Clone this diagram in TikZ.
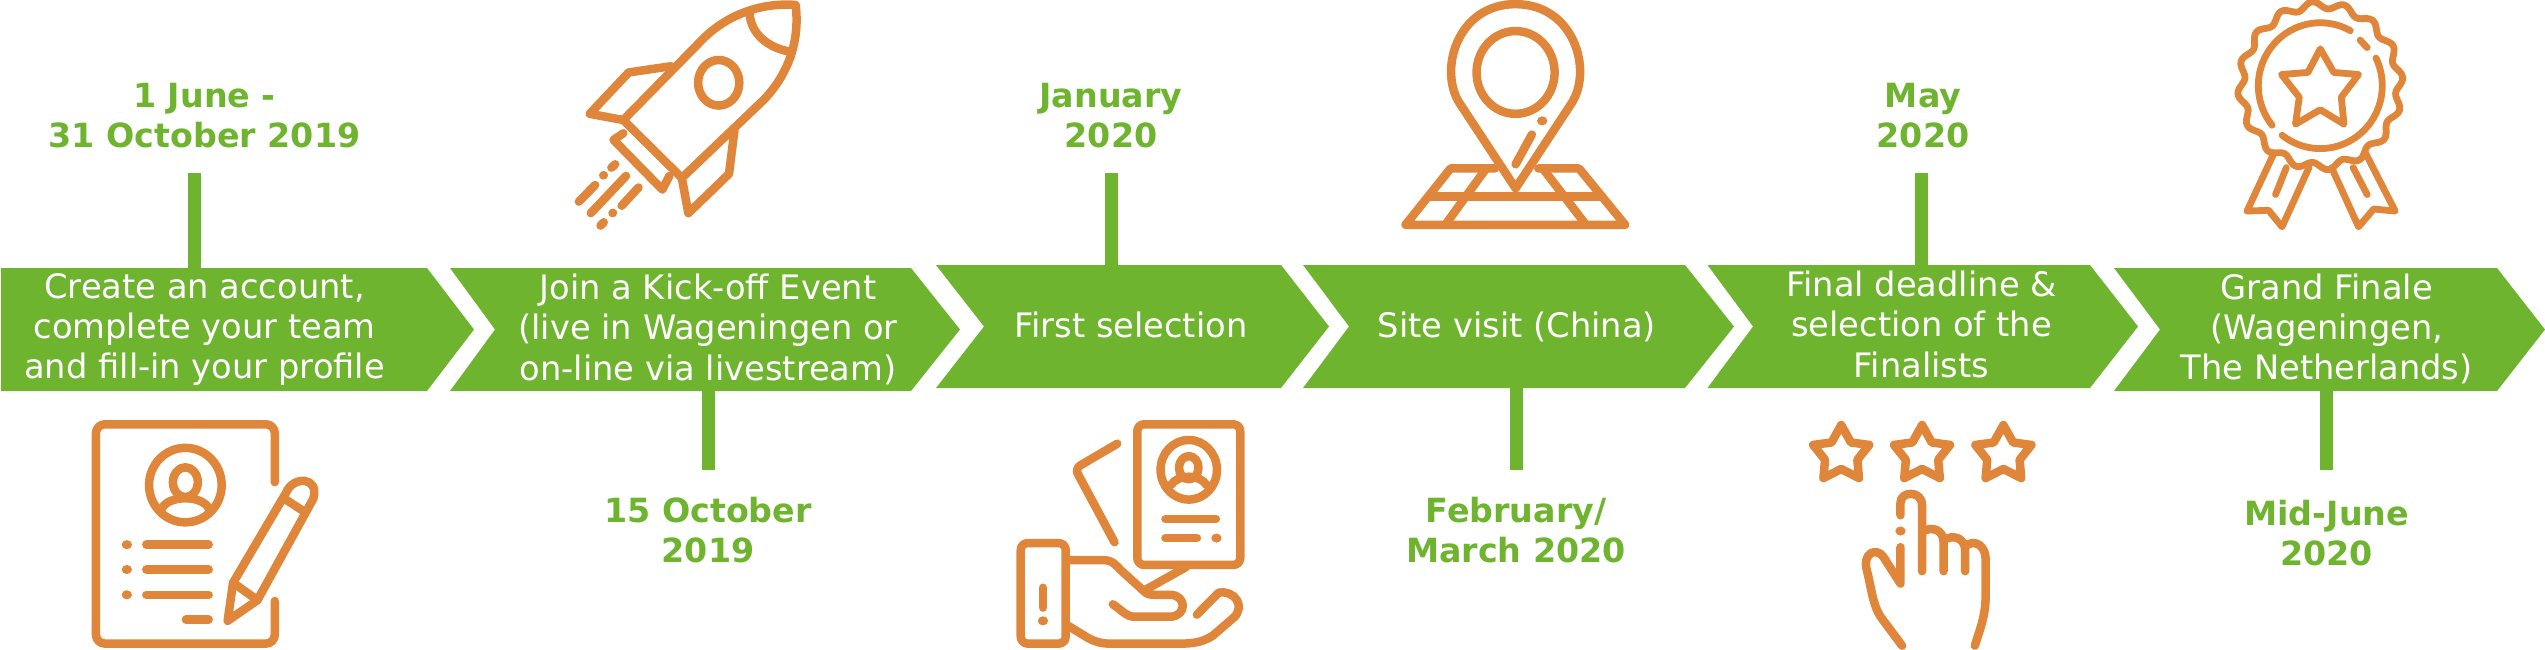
\documentclass[tikz,border=0pt]{standalone}
\usepackage{fontspec}
\setmainfont{DejaVu Sans}
\definecolor{gr}{HTML}{6EB42F}
\definecolor{og}{HTML}{DF863A}
\tikzset{
 x=1pt,y=-1pt,
 chev/.style={fill=gr,draw=none},
 stem/.style={draw=gr,line width=13pt,line cap=butt},
 bodytxt/.style={text=white,align=center,anchor=base,inner sep=0pt,font=\fontsize{33.7}{40.3}\selectfont},
 datetxt/.style={text=gr,align=center,anchor=base,inner sep=0pt,font=\fontsize{33.3}{39.6}\selectfont\bfseries},
 ico/.style={draw=og,line width=8.5pt,line cap=round,line join=round},
 thin ico/.style={draw=og,line width=6.8pt,line cap=round,line join=round},
 dot/.style={fill=og,draw=none},
 zoomA/.style={x=0.5420pt,y=-0.4139pt},
 zoomC/.style={x=0.5389pt,y=-0.4139pt},
}
\begin{document}
\begin{tikzpicture}
\useasboundingbox (0,0) rectangle (2545,649);
% chevrons
\fill[chev] (1,268) -- (427,268) -- (474,329.5) -- (427,391) -- (1,391) -- cycle;
\fill[chev] (450,268) -- (911,268) -- (960,329.5) -- (911,391) -- (450,391) -- (495,329.5) -- cycle;
\fill[chev] (936,265) -- (1281,265) -- (1329,326.5) -- (1281,388) -- (936,388) -- (984,326.5) -- cycle;
\fill[chev] (1303,265) -- (1685,265) -- (1734,326.5) -- (1685,388) -- (1303,388) -- (1349,326.5) -- cycle;
\fill[chev] (1707.5,265) -- (2090,265) -- (2138,326.5) -- (2090,388) -- (1707.5,388) -- (1753,326.5) -- cycle;
\fill[chev] (2114,268) -- (2497,268) -- (2545,329.5) -- (2497,391) -- (2114,391) -- (2160,329.5) -- cycle;
% stems
\coordinate (s1a) at (194,173); \coordinate (s1b) at (194,268);
\coordinate (s2a) at (708.5,391); \coordinate (s2b) at (708.5,470);
\coordinate (s3a) at (1111.5,173); \coordinate (s3b) at (1111.5,265);
\coordinate (s4a) at (1516.5,388); \coordinate (s4b) at (1516.5,470);
\coordinate (s5a) at (1921,173); \coordinate (s5b) at (1921,265);
\coordinate (s6a) at (2326.5,391); \coordinate (s6b) at (2326.5,470);
\foreach \i in {1,...,6}{\draw[stem] (s\i a) -- (s\i b);}
% body text
\node[bodytxt] (t1) at (204.6,378.7) {Create an account,\\complete your team\\and fill-in your profile};
\node[bodytxt] (t2) at (708,380) {Join a Kick-off Event\\(live in Wageningen or\\on-line via livestream)};
\node[bodytxt] (t3) at (1131,337) {First selection};
\node[bodytxt] (t4) at (1517,337) {Site visit (China)};
\node[bodytxt] (t5) at (1921.5,377) {Final deadline \&\\selection of the\\Finalists};
\node[bodytxt] (t6) at (2326.7,379.6) {Grand Finale\\(Wageningen,\\The Netherlands)};
% dates
\node[datetxt] (d1) at (204.5,147) {1 June -\\31 October 2019};
\node[datetxt] (d2) at (708,562) {15 October\\2019};
\node[datetxt] (d3) at (1111,147) {January\\2020};
\node[datetxt] (d4) at (1516,562) {February/\\March 2020};
\node[datetxt] (d5) at (1923,147) {May\\2020};
\node[datetxt] (d6) at (2326.7,565.4) {Mid-June\\2020};
% ---- icon 1: profile sheet
\begin{scope}[zoomA]
\draw[ico,rounded corners=9pt] (507,1165) -- (507,1025) -- (177,1025) -- (177,1555) -- (507,1555) -- (507,1452);
\draw[ico] (342,1172) ellipse[x radius=67,y radius=90];
\draw[ico] (342,1165) ellipse[x radius=23,y radius=36];
\draw[ico] (298,1230) .. controls (310,1195) and (374,1195) .. (386,1230);
\foreach \yy in {1316,1376,1437}{
 \fill[dot] (234,\yy) ellipse[x radius=9.5,y radius=11];
 \draw[ico] (270,\yy) -- (385,\yy);}
\draw[ico] (343,1497) -- (385,1497);
\draw[ico,line join=round] (420,1500) -- (430,1408) -- (528,1190) .. controls (540,1150) and (590,1150) .. (578,1205) -- (475,1450) -- cycle;
\draw[ico] (525,1205) -- (560,1235);
\draw[ico] (430,1408) -- (475,1450);
% ---- icon 2: rocket
\draw[ico] (1150,290) -- (1300,90) .. controls (1340,40) and (1400,5) .. (1468,12) .. controls (1475,90) and (1460,170) .. (1410,240) -- (1258,430) -- cycle;
\draw[ico] (1383,32) .. controls (1385,80) and (1415,115) .. (1458,125);
\draw[ico] (1326,200) ellipse[x radius=38,y radius=55];
\draw[ico] (1238,160) -- (1160,175) -- (1088,275) -- (1150,290);
\draw[ico] (1355,315) -- (1345,420) -- (1270,515) -- (1258,430);
\draw[ico] (1150,322) -- (1132,338) -- (1222,458) -- (1235,425);
\draw[ico] (1068,487) -- (1098,447);
\draw[ico] (1113,424) -- (1114,423);
\draw[ico] (1128,405) -- (1135,397);
\draw[ico] (1090,515) -- (1155,425);
\draw[ico] (1147,497) -- (1178,453);
\draw[ico] (1130,515) -- (1131,514);
\draw[ico] (1108,545) -- (1114,537);
\end{scope}
% ---- icons 3, 4
\begin{scope}[shift={(850pt,0pt)},zoomA]
\draw[ico,rounded corners=7pt] (530,1025) rectangle (720,1365);
\draw[ico] (625,1135) ellipse[x radius=52,y radius=72];
\draw[ico] (625,1130) ellipse[x radius=18,y radius=28];
\draw[ico] (592,1172) .. controls (605,1145) and (645,1145) .. (658,1172);
\draw[ico] (582,1254) -- (675,1254);
\draw[ico] (582,1300) -- (640,1300);
\fill[dot] (676,1300) ellipse[x radius=9.5,y radius=11];
\draw[ico,rounded corners=6pt] (493,1072) -- (415,1132) -- (488,1310);
\draw[ico,rounded corners=7pt] (315,1312) rectangle (398,1555);
\draw[ico] (356,1420) -- (356,1468);
\fill[dot] (356,1500) ellipse[x radius=9.5,y radius=11];
\draw[ico] (400,1353) -- (465,1353) .. controls (485,1353) and (490,1365) .. (500,1378) -- (542,1428) .. controls (548,1437) and (555,1437) .. (565,1437) -- (590,1437) .. controls (622,1437) and (622,1490) .. (590,1490) -- (525,1490) .. controls (510,1490) and (505,1478) .. (485,1460);
\draw[ico] (620,1370) -- (545,1425);
\draw[ico] (400,1510) -- (440,1542) .. controls (455,1552) and (465,1555) .. (480,1555) -- (610,1555) .. controls (640,1555) and (655,1548) .. (670,1535) -- (708,1492) .. controls (730,1465) and (710,1425) .. (680,1432) -- (640,1485);
% pin
\draw[ico] (1228,455) -- (1125,250) .. controls (1085,170) and (1120,10) .. (1228,10) .. controls (1336,10) and (1371,170) .. (1331,250) -- cycle;
\draw[ico] (1228,175) ellipse[x radius=72,y radius=100];
\draw[ico] (1258,325) -- (1228,397);
\fill[dot] (1277,292) ellipse[x radius=9.5,y radius=11];
\draw[ico] (1190,407) -- (1108,407) -- (1025,543) -- (1430,543) -- (1345,407) -- (1270,407);
\draw[ico] (1068,475) -- (1388,475);
\draw[ico] (1172,410) -- (1100,540);
\draw[ico] (1280,410) -- (1356,540);
\end{scope}
% ---- icons 5, 6
\begin{scope}[shift={(1700pt,0pt)},zoomC]
\foreach \cx in {262,412,563}{
 \begin{scope}[shift={(\cx*0.5389pt,1095*0.4139*-1pt)}]
 \draw[ico] (0,-68) -- (18,-26) -- (52,-20) -- (30,16) -- (33,60) -- (0,38) -- (-33,60) -- (-30,16) -- (-52,-20) -- (-18,-26) -- cycle;
 \end{scope}}
\draw[ico] (372,1245) -- (372,1215) .. controls (372,1185) and (412,1185) .. (412,1220) -- (412,1380);
\fill[dot] (372,1283) ellipse[x radius=9.5,y radius=11];
\draw[ico] (372,1322) -- (372,1410) -- (340,1345) .. controls (328,1322) and (300,1335) .. (310,1380) .. controls (318,1420) and (320,1460) .. (335,1490) -- (375,1560);
\draw[ico] (412,1285) .. controls (430,1270) and (452,1280) .. (452,1310) -- (452,1380);
\draw[ico] (452,1305) .. controls (470,1290) and (492,1300) .. (492,1330) -- (492,1380);
\draw[ico] (492,1320) .. controls (510,1300) and (530,1320) .. (530,1350) -- (530,1440) .. controls (530,1490) and (518,1525) .. (510,1560);
% rosette
\draw[thin ico] plot[domain=0:360,samples=193,smooth] ({1151+147*(1+0.045*cos(16*\x+90))*cos(\x)},{207+195*(1+0.045*cos(16*\x+90))*sin(\x)}) -- cycle;
\draw[thin ico] plot[domain=-219:-61,samples=50] ({1151+115*cos(\x)},{207+152*sin(\x)});
\draw[thin ico] plot[domain=-26:128,samples=50] ({1151+115*cos(\x)},{207+152*sin(\x)});
\draw[thin ico] (1225,97) -- (1238,115);
\draw[thin ico] (1151,118) -- (1176,175) -- (1222,180) -- (1190,235) -- (1195,300) -- (1151,265) -- (1105,300) -- (1112,235) -- (1079,180) -- (1128,175) -- cycle;
\draw[thin ico] (1065,370) -- (1015,510) -- (1055,508) -- (1080,548) -- (1130,405);
\draw[thin ico] (1088,405) -- (1068,470);
\draw[thin ico] (1235,370) -- (1290,510) -- (1250,505) -- (1222,548) -- (1172,405);
\draw[thin ico] (1212,405) -- (1238,470);
\end{scope}
\end{tikzpicture}
\end{document}
